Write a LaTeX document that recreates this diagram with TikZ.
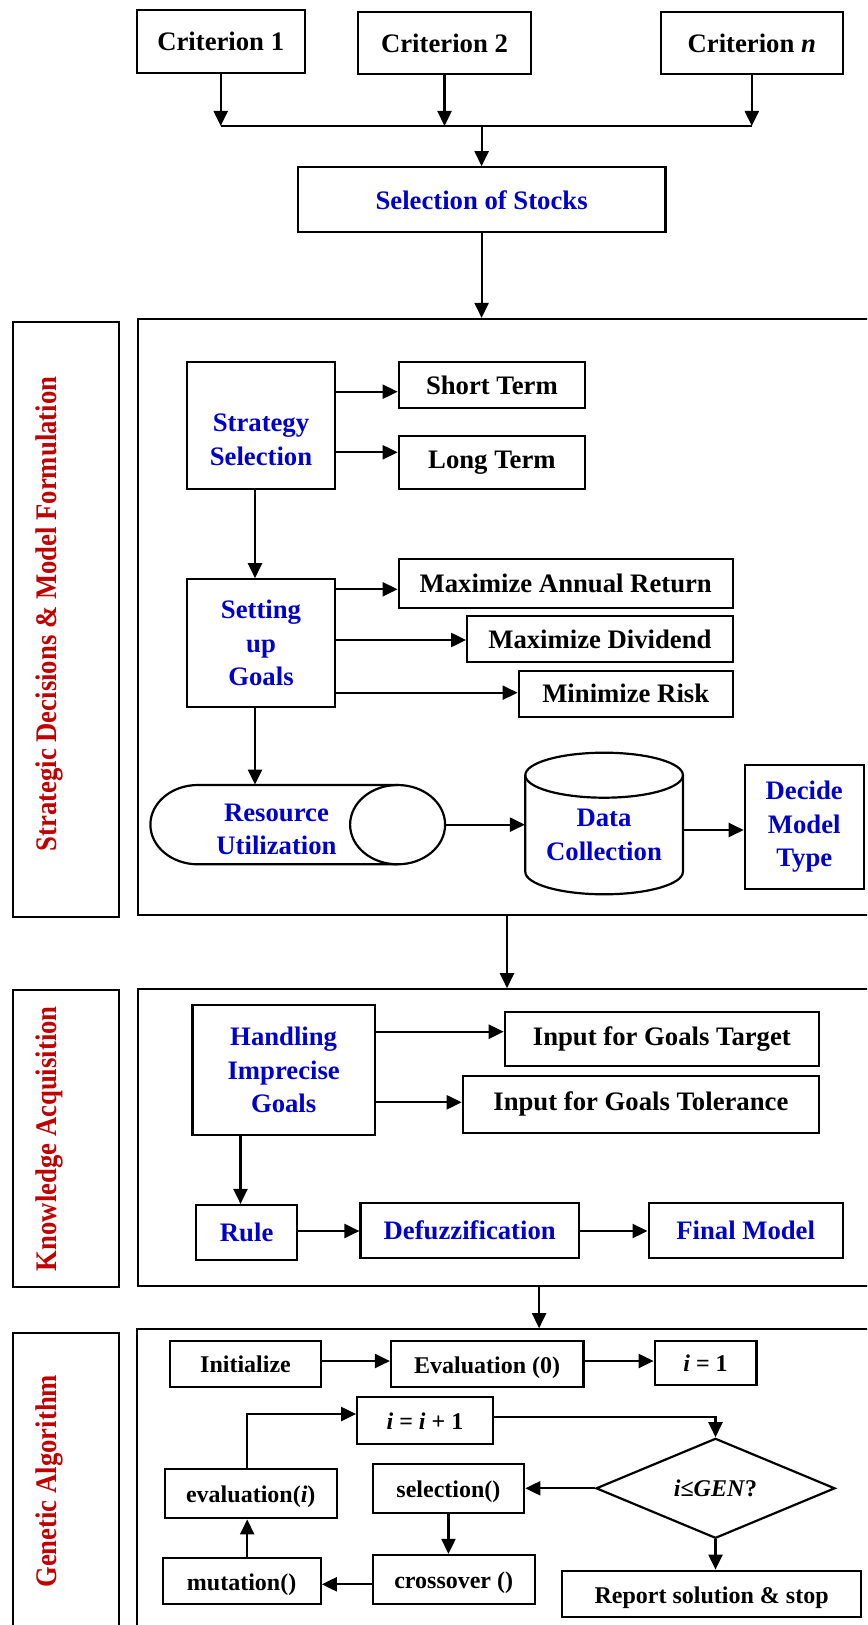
\documentclass[tikz,border=0pt]{standalone}
\usepackage{fontspec}
\setmainfont{Liberation Serif}
\usetikzlibrary{arrows.meta,shapes.geometric,calc}
\definecolor{tblue}{RGB}{0,0,204}
\definecolor{tred}{RGB}{192,0,0}
\newcommand\mainf{\fontsize{13.35}{16.7}\selectfont\bfseries}
\newcommand\gaf{\fontsize{12}{14.4}\selectfont\bfseries}
\newcommand\sidetxt[1]{\scalebox{1}[1.12]{#1}}
\begin{document}
\begin{tikzpicture}[x=0.5pt,y=-0.5pt,
  box/.style={draw,line width=1.1pt,inner sep=0pt,align=center,font=\mainf},
  gbox/.style={box,font=\gaf,text height=9pt,text depth=0pt},
  frame/.style={draw,line width=1.1pt,inner sep=0pt},
  btxt/.style={text=tblue},
  side/.style={rotate=90,inner sep=0pt,text=tred,font=\mainf},
  arr/.style={line width=1.1pt,-{Triangle[length=7.5pt,width=7pt]}},
  ln/.style={line width=1.1pt}]
\useasboundingbox (0,0) rectangle (867,1625);
\clip (0,0) rectangle (867,1625);

% ---------- top ----------
\node[box,minimum width=84pt,minimum height=31.5pt] (c1) at (220.7,41.5) {Criterion 1};
\node[box,minimum width=86.25pt,minimum height=31.3pt] (c2) at (444.5,43) {Criterion 2};
\node[box,minimum width=91pt,minimum height=31.3pt] (cn) at (751.8,43) {Criterion \textit{n}};
\node[box,btxt,minimum width=183.8pt,minimum height=32.5pt] (stocks) at (481.6,199.8) {Selection of Stocks};
\coordinate (bus) at (0,126);
\draw[arr] (c1.south) -- (c1.south |- bus);
\draw[arr] (c2.south) -- (c2.south |- bus);
\draw[arr] (cn.south) -- (cn.south |- bus);
\draw[ln] (c1.south |- bus) -- (cn.south |- bus);
\draw[arr] (stocks.north |- bus) -- (stocks.north);

% ---------- section 1 ----------
\node[frame,minimum width=368.4pt,minimum height=298pt] (main1) at (506.6,617) {};
\node[frame,minimum width=53.1pt,minimum height=297.5pt] (lab1box) at (65.8,619.2) {};
\node[side] (lab1) at (49.5,614) {\sidetxt{Strategic Decisions \& Model Formulation}};
\draw[arr] (stocks.south) -- (stocks.south |- main1.north);

\node[box,btxt,minimum width=74.1pt,minimum height=63.65pt] (strat) at (261,425.3) {\rule{0pt}{23.5pt}Strategy\\Selection};
\node[box,minimum width=93.15pt,minimum height=23.3pt] (short) at (491.9,385) {Short Term};
\node[box,minimum width=93.15pt,minimum height=26.5pt] (long) at (491.9,462.5) {Long Term};
\coordinate (ys1) at (0,391.7);
\coordinate (ys2) at (0,452.3);
\draw[arr] (strat.east |- ys1) -- (short.west |- ys1);
\draw[arr] (strat.east |- ys2) -- (long.west |- ys2);

\node[box,btxt,minimum width=74.1pt,minimum height=63.7pt] (goals) at (261,643) {Setting\\up\\Goals};
\node[box,minimum width=167pt,minimum height=24.2pt] (mar) at (565.7,583.5) {Maximize Annual Return};
\node[box,minimum width=132.7pt,minimum height=23.15pt] (mdiv) at (599.9,639.2) {Maximize Dividend};
\node[box,minimum width=107pt,minimum height=23pt] (mrisk) at (625.7,693.7) {Minimize Risk};
\coordinate (xs) at (255,0);
\draw[arr] (strat.south -| xs) -- (goals.north -| xs);
\coordinate (yg1) at (0,589.3);
\coordinate (yg2) at (0,640);
\coordinate (yg3) at (0,692.7);
\draw[arr] (goals.east |- yg1) -- (mar.west |- yg1);
\draw[arr] (goals.east |- yg2) -- (mdiv.west |- yg2);
\draw[arr] (goals.east |- yg3) -- (mrisk.west |- yg3);

% resource cylinder (horizontal)
\node[inner sep=0pt,minimum width=147.35pt,minimum height=39.65pt] (res) at (297.75,824.65) {};
\draw[ln] (197.9,785) -- (397.6,785) (397.6,864.3) -- (197.9,864.3)
  arc[start angle=270,end angle=90,x radius=23.75pt,y radius=19.825pt];
\draw[ln] (397.6,824.65) ellipse [x radius=23.75pt,y radius=19.825pt];
\node[font=\mainf,btxt,align=center,inner sep=0pt] (restext) at (276.5,829.5) {Resource\\Utilization};
\draw[arr] (goals.south -| xs) -- (res.north -| xs);

% data cylinder (vertical)
\node[inner sep=0pt,minimum width=78.8pt,minimum height=70.8pt] (data) at (604.1,823.5) {};
\draw[ln] (604.1,775.2) ellipse [x radius=39.4pt,y radius=11.25pt];
\draw[ln] (525.3,775.2) -- (525.3,871.8)
  arc[start angle=180,end angle=360,x radius=39.4pt,y radius=11.25pt] -- (682.9,775.2);
\node[font=\mainf,btxt,align=center,inner sep=0pt] (datatext) at (604,835) {Data\\Collection};
\node[box,btxt,minimum width=59.45pt,minimum height=62pt] (decide) at (804.25,827) {Decide\\Model\\Type};
\draw[arr] (res.east) -- (res.east -| data.west);
\coordinate (yd) at (0,830);
\draw[arr] (data.east |- yd) -- (decide.west |- yd);

% ---------- section 2 ----------
\node[frame,minimum width=368.4pt,minimum height=148.35pt] (main2) at (506.6,1137.65) {};
\node[frame,minimum width=53.1pt,minimum height=148.2pt] (lab2box) at (65.8,1138.5) {};
\node[side] (lab2) at (49.5,1138.7) {\sidetxt{Knowledge Acquisition}};
\coordinate (x12) at (507,0);
\draw[arr] (main1.south -| x12) -- (main2.north -| x12);

\node[box,btxt,minimum width=91.25pt,minimum height=65pt] (hig) at (283.65,1070) {Handling\\Imprecise\\Goals};
\node[box,minimum width=157.05pt,minimum height=27.15pt] (igt) at (661.85,1038.85) {Input for Goals Target};
\node[box,minimum width=178.05pt,minimum height=28.35pt] (igtol) at (640.85,1104.35) {Input for Goals Tolerance};
\coordinate (yh1) at (0,1031.7);
\coordinate (yh2) at (0,1102.3);
\draw[arr] (hig.east |- yh1) -- (igt.west |- yh1);
\draw[arr] (hig.east |- yh2) -- (igtol.west |- yh2);
\node[box,btxt,minimum width=50.35pt,minimum height=27.5pt] (rule) at (246.65,1232.5) {Rule};
\node[box,btxt,minimum width=109.2pt,minimum height=27.5pt] (defuzz) at (469.7,1230.2) {Defuzzification};
\node[box,btxt,minimum width=97.05pt,minimum height=27.5pt] (final) at (745.65,1230.2) {Final Model};
\coordinate (xh) at (240.5,0);
\draw[arr] (hig.south -| xh) -- (rule.north -| xh);
\coordinate (yr) at (0,1231);
\draw[arr] (rule.east |- yr) -- (defuzz.west |- yr);
\draw[arr] (defuzz.east |- yr) -- (final.west |- yr);

% ---------- section 3 ----------
\node[frame,minimum width=368.95pt,minimum height=165.35pt] (main3) at (506.05,1494.65) {};
\node[frame,minimum width=53.1pt,minimum height=163.65pt] (lab3box) at (65.8,1496.35) {};
\node[side] (lab3) at (49.5,1481.3) {\sidetxt{Genetic Algorithm}};
\coordinate (x23) at (539.1,0);
\draw[arr] (main2.south -| x23) -- (main3.north -| x23);

\node[gbox,minimum width=75.2pt,minimum height=23pt] (init) at (245.5,1363.7) {Initialize};
\node[gbox,minimum width=96.2pt,minimum height=23.3pt] (eval0) at (487.2,1364) {Evaluation (0)};
\node[gbox,minimum width=50.85pt,minimum height=22.15pt] (ione) at (705.55,1362.85) {\textit{i} = 1};
\coordinate (yi) at (0,1361);
\draw[arr] (init.east |- yi) -- (eval0.west |- yi);
\draw[arr] (eval0.east |- yi) -- (ione.west |- yi);

\node[gbox,minimum width=67.75pt,minimum height=23.35pt] (iinc) at (424.95,1420.35) {\textit{i} = \textit{i} + 1};
\node[draw,line width=1.1pt,shape=diamond,aspect=2.39,inner sep=0pt,minimum width=119.5pt,minimum height=50pt,font=\gaf] (dia) at (715.5,1488.3) {\textit{i}≤\textit{GEN}?};
\node[gbox,minimum width=75.75pt,minimum height=24.65pt] (selc) at (448.45,1488.65) {selection()};
\node[gbox,minimum width=85.95pt,minimum height=24.65pt] (evali) at (250.75,1493.65) {evaluation(\textit{i})};
\node[gbox,minimum width=81pt,minimum height=24.5pt] (cross) at (453.7,1579.5) {crossover ()};
\node[gbox,minimum width=79.05pt,minimum height=22.85pt] (mut) at (241.65,1581.15) {mutation()};
\node[gbox,minimum width=149.35pt,minimum height=23.3pt] (report) at (711.65,1594) {Report solution \& stop};

\coordinate (xa) at (247.2,0);
\coordinate (yl) at (0,1414);
\coordinate (yr2) at (0,1417.3);
\coordinate (yc) at (0,1584.3);
\draw[arr] (evali.north -| xa) -- (xa |- yl) -- (iinc.west |- yl);
\draw[arr] (iinc.east |- yr2) -- (dia.north |- yr2) -- (dia.north);
\draw[arr] (dia.west) -- (dia.west -| selc.east);
\draw[arr] (selc.south) -- (selc.south |- cross.north);
\draw[arr] (cross.west |- yc) -- (mut.east |- yc);
\draw[arr] (mut.north -| xa) -- (evali.south -| xa);
\draw[arr] (dia.south) -- (dia.south |- report.north);
\end{tikzpicture}
\end{document}
